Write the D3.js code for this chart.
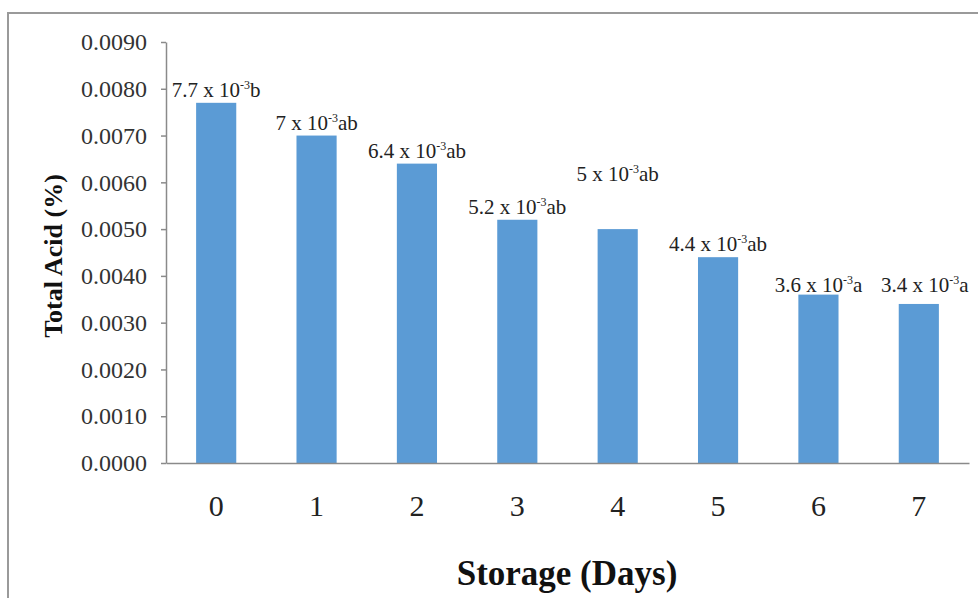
<!DOCTYPE html>
<html>
<head>
<meta charset="utf-8">
<script src="https://cdn.jsdelivr.net/npm/d3@7"></script>
<style>
	body { margin: 0; background: #fff; }
	svg { display: block; font-family: "Liberation Serif", "Times New Roman", serif; }
</style>
</head>
<body>
<div id="barchart"></div>
<script>

	// chart values
	var days = ["0", "1", "2", "3", "4", "5", "6", "7"];
	var totalAcid = [0.0077, 0.0070, 0.0064, 0.0052, 0.0050, 0.0044, 0.0036, 0.0034];
	var labelCoef = ["7.7", "7", "6.4", "5.2", "5", "4.4", "3.6", "3.4"];
	var labelLetter = ["b", "ab", "ab", "ab", "ab", "ab", "a", "a"];
	var yTicks = [0, 0.001, 0.002, 0.003, 0.004, 0.005, 0.006, 0.007, 0.008, 0.009];

	var width = 978, height = 598;

	var svg = d3.select("#barchart")
	.append("svg")
	.attr("width", width)
	.attr("height", height);

	// outer frame (right and bottom edges fall outside the picture)
	svg.append("rect")
	.attr("x", 8)
	.attr("y", 13)
	.attr("width", 1000)
	.attr("height", 620)
	.attr("fill", "none")
	.attr("stroke", "#9a9a9a")
	.attr("stroke-width", 2);

	var x = d3.scaleBand()
	.domain(days)
	.range([166, 969])
	.paddingInner(0.6)
	.paddingOuter(0.3);

	var y = d3.scaleLinear()
	.domain([0, 0.009])
	.range([463, 42]);

	// y axis
	var yAxis = svg.append("g")
	.attr("class", "axis axis--y")
	.attr("transform", "translate(166,0)")
	.call(d3.axisLeft(y).tickValues(yTicks).tickFormat(d3.format(".4f")).tickSizeInner(5).tickSizeOuter(0).tickPadding(14));

	yAxis.select(".domain").attr("stroke", "#8a8a8a").attr("stroke-width", 1.5);
	yAxis.selectAll(".tick line").attr("stroke", "#8a8a8a").attr("stroke-width", 1.5);
	yAxis.selectAll(".tick text")
	.attr("fill", "#333")
	.attr("font-size", 24)
	.attr("font-family", "Liberation Serif, serif");

	// bars
	svg.selectAll(".bar")
	.data(totalAcid)
	.enter().append("rect")
	.attr("class", "bar")
	.attr("x", function(d, i) { return x(days[i]); })
	.attr("y", function(d) { return y(d); })
	.attr("width", x.bandwidth())
	.attr("height", function(d) { return y(0) - y(d); })
	.attr("fill", "#5b9bd5");

	// x axis
	var xAxis = svg.append("g")
	.attr("class", "axis axis--x")
	.attr("transform", "translate(0,463)")
	.call(d3.axisBottom(x).tickSize(0).tickPadding(32));

	xAxis.select(".domain").attr("stroke", "#8a8a8a").attr("stroke-width", 1.5);
	xAxis.selectAll(".tick text")
	.attr("fill", "#222")
	.attr("font-size", 30)
	.attr("font-family", "Liberation Serif, serif");

	// data labels with superscript exponent
	var labels = svg.selectAll(".barlabel")
	.data(totalAcid)
	.enter().append("text")
	.attr("class", "barlabel")
	.attr("x", function(d, i) { return x(days[i]) + x.bandwidth() / 2 + (i == 7 ? 6 : 0); })
	.attr("y", function(d, i) {
		var lift = 6;
		if (i == 4) lift = 48;   // this label was moved up in the original
		if (i == 7) lift = 12;
		if (i == 6) lift = 3;
		return y(d) - lift;
	})
	.attr("text-anchor", "middle")
	.attr("font-size", 21)
	.attr("fill", "#222");

	labels.append("tspan").text(function(d, i) { return labelCoef[i] + " x 10"; });
	labels.append("tspan")
	.attr("font-size", 12)
	.attr("dy", -8)
	.text("-3");
	labels.append("tspan")
	.attr("dy", 8)
	.text(function(d, i) { return labelLetter[i]; });

	// axis titles
	svg.append("text")
	.attr("transform", "translate(62,256) rotate(-90)")
	.attr("text-anchor", "middle")
	.attr("font-size", 26)
	.attr("font-weight", "bold")
	.attr("fill", "#111")
	.text("Total Acid (%)");

	svg.append("text")
	.attr("x", 567)
	.attr("y", 585)
	.attr("text-anchor", "middle")
	.attr("font-size", 35)
	.attr("font-weight", "bold")
	.attr("fill", "#111")
	.text("Storage (Days)");

</script>
</body>
</html>
